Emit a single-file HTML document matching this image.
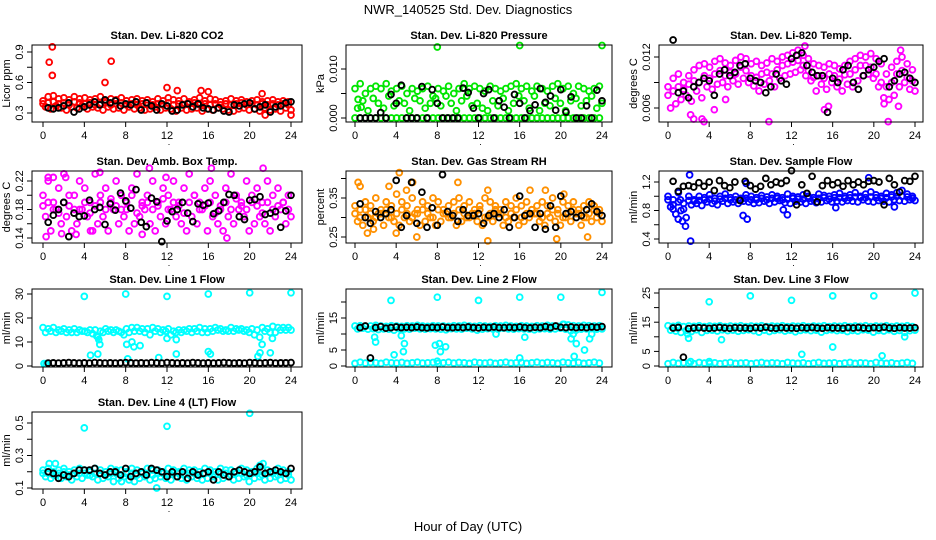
<!DOCTYPE html>
<html><head><meta charset="utf-8"><style>
html,body{margin:0;padding:0;background:#fff}
svg{display:block;font-family:"Liberation Sans",sans-serif}
</style></head><body>
<svg id="c" width="936" height="540" viewBox="0 0 936 540">
<text x="468" y="14" text-anchor="middle" font-size="13">NWR_140525  Std. Dev. Diagnostics</text>
<text x="468" y="531" text-anchor="middle" font-size="13">Hour of Day (UTC)</text>
</svg>
<script>
const xTicks=[0,4,8,12,16,20,24];
const co2A=[0.42,0.46,0.47,0.44,0.45,0.43,0.46,0.44,0.45,0.43,0.44,0.46,0.42,0.44,0.43,0.45,0.42,0.43,0.44,0.42,0.43,0.41,0.44,0.42,0.45,0.43,0.42,0.44,0.41,0.43,0.45,0.42,0.44,0.43,0.41,0.42,0.44,0.42,0.43,0.41,0.42,0.43,0.41,0.42,0.43,0.41,0.42,0.41];
const co2B=[0.36,0.34,0.37,0.35,0.33,0.36,0.35,0.37,0.34,0.36,0.35,0.33,0.36,0.34,0.35,0.33,0.36,0.34,0.35,0.33,0.34,0.36,0.33,0.35,0.34,0.32,0.35,0.33,0.34,0.35,0.32,0.34,0.33,0.35,0.34,0.33,0.32,0.34,0.35,0.33,0.34,0.32,0.35,0.33,0.34,0.32,0.35,0.33];
const co2C=[0.39,0.40,0.41,0.39,0.40,0.38,0.41,0.40,0.39,0.40,0.38,0.39,0.40,0.38,0.39,0.40,0.38,0.39,0.38,0.39,0.40,0.38,0.39,0.38,0.40,0.38,0.39,0.38,0.39,0.40,0.38,0.39,0.38,0.39,0.38,0.39,0.38,0.39,0.40,0.38,0.39,0.38,0.39,0.38,0.39,0.38,0.39,0.38];
const co2Out=[[0.9,0.95],[0.6,0.8],[0.9,0.67],[6.6,0.81],[6.0,0.6],[12,0.55],[13,0.52],[15.3,0.52],[16,0.51],[21.2,0.49],[24,0.28],[21.5,0.28]];
const co2Blk=[0.35,0.34,0.35,0.37,0.40,0.31,0.34,0.36,0.38,0.41,0.38,0.43,0.40,0.42,0.37,0.39,0.38,0.41,0.33,0.40,0.37,0.33,0.39,0.37,0.32,0.33,0.38,0.39,0.36,0.39,0.35,0.34,0.33,0.35,0.32,0.31,0.38,0.37,0.39,0.40,0.34,0.36,0.38,0.31,0.36,0.37,0.40,0.41];
const prsA=[0.006,0.007,0.005,0.006,0.0065,0.006,0.007,0.0055,0.006,0.0065,0.005,0.006,0.0055,0.006,0.0065,0.0045,0.006,0.0055,0.0065,0.005,0.006,0.007,0.006,0.0065,0.006,0.0055,0.0065,0.006,0.0055,0.006,0.0065,0.007,0.006,0.0065,0.0055,0.0065,0.006,0.0055,0.0065,0.007,0.006,0.0065,0.005,0.0065,0.006,0.0055,0.006,0.0065];
const prsB=[0.002,0.0035,0.0015,0.004,0.003,0.002,0.0045,0.0025,0.0035,0.003,0.0015,0.004,0.0035,0.002,0.003,0.004,0.0025,0.0045,0.003,0.0015,0.0035,0.0045,0.0025,0.003,0.002,0.0015,0.0035,0.0025,0.004,0.0015,0.003,0.0045,0.0035,0.002,0.0045,0.0015,0.003,0.0025,0.004,0.003,0.0015,0.0035,0.004,0.0025,0.0035,0.0045,0.002,0.003];
const prsZ=[0,0,0,0,0,0,0,0,0,0,0,0,0,0,0,0,0,0,0,0,0,0,0,0,0,0,0,0,0,0,0,0,0,0,0,0,0,0,0,0,0,0,0,0,0,0,0,0];
const prsOut=[[8,0.0145],[16,0.0148],[24,0.0148],[0.3,0.0038],[0.6,0.0022]];
const prsBlk=[0,0,0,0,0.0011,0,0.0048,0.0030,0.0067,0,0,0,0.0064,0,0.0058,0.0030,0,0,0,0,0.0061,0.0052,0.0020,0,0.0050,0.0058,0,0.0035,0.0022,0,0.0048,0.0030,0,0.0015,0.0027,0.0060,0.0032,0.0045,0.0016,0.0058,0.0012,0.0043,0,0,0.0025,0,0.0057,0.0035];
const tmpA=[0.0085,0.0095,0.0100,0.0090,0.0098,0.0105,0.0110,0.0112,0.0108,0.0115,0.0118,0.0113,0.0110,0.0116,0.0120,0.0118,0.0112,0.0115,0.0110,0.0113,0.0118,0.0115,0.0120,0.0122,0.0125,0.0128,0.0122,0.0118,0.0112,0.0110,0.0108,0.0112,0.0110,0.0106,0.0110,0.0115,0.0118,0.0122,0.0120,0.0124,0.0118,0.0112,0.0100,0.0108,0.0115,0.0120,0.0112,0.0105];
const tmpB=[0.0060,0.0065,0.0070,0.0075,0.0068,0.0080,0.0072,0.0085,0.0082,0.0088,0.0090,0.0085,0.0092,0.0088,0.0095,0.0090,0.0086,0.0080,0.0088,0.0092,0.0085,0.0095,0.0098,0.0100,0.0102,0.0105,0.0098,0.0092,0.0080,0.0088,0.0082,0.0090,0.0085,0.0080,0.0088,0.0085,0.0092,0.0098,0.0100,0.0095,0.0085,0.0072,0.0070,0.0075,0.0085,0.0090,0.0082,0.0080];
const tmpC=[0.0075,0.0080,0.0085,0.0082,0.0088,0.0092,0.0090,0.0098,0.0095,0.0100,0.0104,0.0098,0.0102,0.0100,0.0108,0.0104,0.0098,0.0096,0.0100,0.0102,0.0100,0.0105,0.0110,0.0112,0.0114,0.0116,0.0110,0.0104,0.0096,0.0098,0.0095,0.0100,0.0098,0.0094,0.0099,0.0100,0.0105,0.0110,0.0110,0.0108,0.0100,0.0090,0.0085,0.0090,0.0100,0.0104,0.0096,0.0092];
const tmpOut=[[2.2,0.0052],[2.5,0.0047],[3.3,0.0047],[3.5,0.0044],[4.5,0.0058],[5.6,0.0070],[9.8,0.0044],[15.2,0.0058],[15.6,0.0062],[21.0,0.0065],[21.4,0.0044],[22.4,0.0062],[13.3,0.0133],[22.6,0.0128]];
const tmpBlk=[0.0140,0.0078,0.0080,0.0072,0.0085,0.0090,0.0095,0.0092,0.0075,0.0100,0.0105,0.0098,0.0102,0.0110,0.0112,0.0095,0.0092,0.0090,0.0078,0.0085,0.0100,0.0092,0.0088,0.0118,0.0122,0.0125,0.0110,0.0102,0.0098,0.0098,0.0055,0.0095,0.0090,0.0105,0.0110,0.0090,0.0082,0.0098,0.0105,0.0108,0.0115,0.0118,0.0085,0.0092,0.0100,0.0102,0.0095,0.0090];
const ambA=[0.20,0.22,0.19,0.21,0.23,0.20,0.18,0.22,0.21,0.19,0.23,0.20,0.21,0.19,0.22,0.20,0.18,0.21,0.23,0.19,0.20,0.22,0.19,0.21,0.20,0.22,0.19,0.21,0.23,0.20,0.19,0.21,0.22,0.20,0.18,0.21,0.23,0.20,0.19,0.22,0.20,0.21,0.19,0.22,0.20,0.21,0.19,0.20];
const ambB=[0.17,0.15,0.18,0.16,0.17,0.15,0.16,0.18,0.17,0.15,0.16,0.17,0.15,0.18,0.16,0.17,0.15,0.16,0.17,0.18,0.16,0.15,0.17,0.16,0.18,0.17,0.16,0.15,0.17,0.16,0.18,0.15,0.17,0.16,0.15,0.17,0.16,0.18,0.17,0.15,0.16,0.17,0.16,0.15,0.17,0.18,0.16,0.17];
const ambC=[0.185,0.19,0.18,0.175,0.19,0.185,0.2,0.18,0.19,0.175,0.185,0.19,0.18,0.195,0.185,0.18,0.19,0.2,0.175,0.185,0.19,0.18,0.185,0.195,0.18,0.19,0.185,0.175,0.19,0.2,0.18,0.185,0.19,0.175,0.185,0.19,0.18,0.195,0.185,0.18,0.19,0.185,0.175,0.19,0.18,0.185,0.19,0.18];
const ambOut=[[0.3,0.142],[0.5,0.225],[1,0.225],[1.8,0.146],[2.2,0.225],[5.5,0.232],[10.3,0.238],[11.9,0.225],[16.3,0.238],[17.8,0.14],[21.3,0.238],[9.6,0.145],[3.2,0.145],[4.6,0.15]];
const ambBlk=[0.162,0.172,0.18,0.19,0.142,0.175,0.17,0.171,0.193,0.18,0.183,0.159,0.188,0.179,0.203,0.192,0.182,0.208,0.162,0.156,0.196,0.191,0.135,0.164,0.177,0.18,0.19,0.175,0.163,0.188,0.186,0.189,0.174,0.178,0.19,0.201,0.2,0.17,0.166,0.193,0.194,0.198,0.173,0.175,0.177,0.155,0.178,0.2];
const rhA=[0.33,0.32,0.34,0.33,0.35,0.32,0.34,0.33,0.36,0.34,0.33,0.35,0.32,0.34,0.33,0.35,0.34,0.32,0.33,0.34,0.35,0.33,0.34,0.32,0.33,0.35,0.34,0.33,0.32,0.34,0.33,0.35,0.33,0.34,0.32,0.33,0.34,0.33,0.35,0.32,0.34,0.33,0.34,0.32,0.33,0.34,0.33,0.32];
const rhB=[0.29,0.28,0.30,0.29,0.31,0.28,0.30,0.29,0.28,0.30,0.29,0.31,0.28,0.29,0.30,0.28,0.29,0.31,0.30,0.28,0.29,0.30,0.31,0.29,0.28,0.30,0.29,0.31,0.28,0.29,0.30,0.28,0.29,0.30,0.31,0.29,0.28,0.30,0.29,0.28,0.30,0.29,0.31,0.28,0.30,0.29,0.30,0.29];
const rhC=[0.31,0.30,0.32,0.31,0.30,0.31,0.32,0.30,0.31,0.32,0.31,0.30,0.31,0.32,0.31,0.30,0.32,0.31,0.30,0.31,0.32,0.31,0.30,0.31,0.32,0.30,0.31,0.32,0.31,0.30,0.31,0.32,0.30,0.31,0.32,0.31,0.30,0.31,0.32,0.31,0.30,0.31,0.32,0.31,0.30,0.31,0.32,0.31];
const rhOut=[[0.3,0.39],[0.5,0.38],[1.2,0.26],[1.8,0.27],[3.3,0.38],[4.3,0.415],[4.0,0.26],[5.6,0.39],[6.0,0.25],[10.0,0.39],[12.9,0.24],[12.9,0.37],[17.0,0.37],[19.6,0.245],[22.6,0.25],[18.5,0.37],[5.0,0.37],[20.3,0.36]];
const rhBlk=[0.335,0.30,0.285,0.315,0.30,0.31,0.32,0.395,0.275,0.305,0.39,0.285,0.365,0.275,0.325,0.28,0.41,0.315,0.305,0.29,0.32,0.305,0.305,0.31,0.285,0.305,0.31,0.3,0.32,0.275,0.3,0.355,0.305,0.31,0.275,0.31,0.27,0.33,0.275,0.355,0.31,0.315,0.3,0.305,0.32,0.335,0.315,0.305];
const flwA=[1.0,0.95,1.05,0.9,1.0,0.95,1.0,0.98,1.02,0.97,1.0,1.03,0.98,1.0,0.97,1.02,1.0,0.98,1.01,0.99,1.02,1.0,0.98,1.03,1.0,0.99,1.02,1.0,0.98,1.03,1.01,1.0,1.02,1.04,1.0,1.02,1.05,1.0,1.03,1.06,1.02,1.0,1.04,1.02,1.05,1.08,1.03,1.0];
const flwB=[0.85,0.75,0.8,0.7,0.88,0.9,0.87,0.92,0.9,0.88,0.93,0.9,0.92,0.9,0.93,0.92,0.9,0.91,0.93,0.9,0.92,0.94,0.91,0.9,0.93,0.92,0.9,0.93,0.91,0.92,0.94,0.92,0.93,0.92,0.94,0.93,0.92,0.95,0.93,0.92,0.94,0.93,0.92,0.95,0.94,0.93,0.95,0.94];
const flwC=[0.95,0.88,0.92,0.82,0.94,0.93,0.94,0.95,0.96,0.93,0.96,0.97,0.95,0.95,0.95,0.97,0.95,0.95,0.97,0.95,0.97,0.97,0.95,0.96,0.97,0.96,0.96,0.97,0.95,0.97,0.98,0.96,0.98,0.98,0.97,0.98,0.99,0.98,0.98,0.99,0.98,0.97,0.98,0.99,1.0,1.0,0.99,0.97];
const flwOut=[[2.1,1.3],[2.2,0.37],[1.7,0.58],[1.0,0.68],[1.4,0.65],[7.3,0.73],[7.7,0.68],[11.6,0.74],[11.2,0.81],[16.3,0.84],[19.5,1.26],[22.0,0.85],[0.5,0.82],[1.2,0.95],[7.6,1.18]];
const flwBlk=[1.21,1.07,1.14,1.15,1.13,1.19,1.14,1.2,1.08,1.22,1.15,1.12,1.2,0.94,1.21,1.15,1.1,1.14,1.25,1.16,1.2,1.18,1.22,1.36,0.88,1.16,1.04,1.28,0.92,1.15,1.22,1.16,1.19,1.14,1.22,1.16,1.2,1.16,1.21,1.22,1.2,0.88,1.25,1.16,1.06,1.22,1.21,1.28];
const l1A=[16,15.5,16,15,15.5,15,15.5,15,14.5,15,15,14.5,15.5,15,15,14,15.5,16,16,15.5,15.5,16,15.5,15,15.5,14.5,15,15,15.5,15.5,16,15.5,15.5,16,15.5,15,16,15.5,15.5,15,15.5,15,16,15.5,16.5,16,16,16];
const l1B=[14,14.5,14,14.5,14,14,14,14.5,14,13.5,12,14,14.5,14,14.5,13,14,14.5,14.5,14,13,14.5,14,14.5,13,14,14,14.5,14,14.5,14,14,14.5,15,14.5,14.5,14.5,15,14.5,14,13,12,14.5,14,14,15,15,15];
const l1Out=[[4,29],[8,30],[12,29],[16,30],[20,30.5],[24,30.5],[5.2,12.5],[5.4,11],[5.5,9],[4.6,4.5],[5.3,5],[8.1,9],[8.6,10],[8.8,8],[9.4,8.5],[12,11.5],[12.9,11],[12.9,5],[16,6],[16.2,5],[20.8,4],[21,5.5],[21.2,9],[22,5.5],[22.2,11.5],[8.2,3],[11.2,3.5],[0.1,1],[0.3,1]];
const l1Blk=[1.2,1.3,1.2,1.3,1.4,1.3,1.2,1.3,1.2,1.4,1.3,1.2,1.3,1.2,1.3,1.4,1.3,1.2,1.3,1.2,1.4,1.3,1.2,1.4,1.3,1.2,1.3,1.2,1.4,1.3,1.2,1.3,1.2,1.3,1.4,1.3,1.2,1.3,1.2,1.4,1.3,1.2,1.3,1.4,1.2,1.3,1.3,1.4];
const l2A=[12.5,12.6,12.4,12.5,12.7,12.5,12.4,12.6,12.5,12.4,12.6,12.5,12.7,12.5,12.4,12.6,12.5,12.5,12.4,12.6,12.5,12.7,12.5,12.4,12.6,12.5,12.4,12.6,12.5,12.7,12.5,12.4,12.6,12.5,12.4,12.6,12.5,12.7,12.5,12.4,13,12.8,12.6,12.5,12.7,12.6,12.5,12.6];
const l2B=[11.6,11.8,11.5,11.7,11.4,11.6,11.5,11.2,11.7,11.6,11.5,11.8,11.6,11.5,11.7,11.6,11.5,11.3,11.7,11.6,11.5,11.8,11.6,11.2,11.5,11.7,11.6,11.5,11.8,11.6,11.5,11.7,11.6,11.5,11.3,11.6,11.7,11.5,11.6,11.8,11.5,11,11.2,11.5,11.6,11.7,11.5,11.6];
const l2Low=[0.8,1.2,0.9,1.1,1.0,0.8,1.2,1.0,0.9,1.1,0.8,1.0,1.2,0.9,1.0,1.1,0.8,1.0,1.2,0.9,1.1,1.0,0.8,1.2,1.0,0.9,1.1,0.8,1.0,1.2,0.9,1.0,1.1,0.8,1.0,1.2,0.9,1.1,1.0,0.8,1.2,1.0,0.9,1.1,0.8,1.0,1.2,0.9];
const l2Out=[[2,7.5],[1.9,9],[3.5,20.5],[3.8,3.5],[4.5,9.5],[4.7,4.5],[4.8,7],[8,21.5],[7.8,6.5],[8.2,7],[8.3,4.5],[8.8,6],[12,20.5],[8,1.5],[16,21.5],[16,2.5],[20,21.5],[20.3,13],[21,8.5],[21.2,10],[21.5,7],[21.3,3],[22.3,5],[22.8,8.5],[23,10],[24,23],[13.7,10],[16.5,9]];
const l2Blk=[12,12.5,2.5,12,12.3,11.8,12,12.2,12,12.1,12,12.2,12,11.9,12.1,12,12.2,12,12,12.1,12,12.2,12,11.9,12.1,12,12.2,12,12,12.1,12,12.2,12,11.9,12.1,12,12.3,12,12.5,12.1,12,12.2,12,12.1,12,12.2,12.1,12.3];
const l3A=[13.8,13.6,13.9,13.5,13.7,13.6,13.8,13.5,13.7,13.6,13.8,13.5,13.7,13.6,13.8,13.5,13.7,13.6,13.8,13.5,13.7,13.6,13.8,13.5,13.7,13.6,13.8,13.5,13.7,13.6,13.8,13.5,13.7,13.6,13.8,13.5,13.7,13.6,13.8,13.5,13.7,13.6,13.8,13.5,13.7,13.6,13.8,13.5];
const l3B=[12.3,12.0,11.5,12.2,11.8,12.4,11.5,12.2,12.3,12.0,12.4,12.1,12.3,11.9,12.2,12.4,12.1,11.6,12.3,11.8,12.2,12.4,12.0,12.3,11.7,12.2,12.4,12.1,12.3,11.6,12.2,12.4,12.1,12.3,11.8,12.2,12.0,12.4,12.3,11.6,12.2,12.0,12.4,11.9,12.2,11.5,12.1,12.3];
const l3Low=[0.8,1.2,0.9,1.1,1.0,0.8,1.2,1.0,0.9,1.1,0.8,1.0,1.2,0.9,1.0,1.1,0.8,1.0,1.2,0.9,1.1,1.0,0.8,1.2,1.0,0.9,1.1,0.8,1.0,1.2,0.9,1.0,1.1,0.8,1.0,1.2,0.9,1.1,1.0,0.8,1.2,1.0,0.9,1.1,0.8,1.0,1.2,0.9];
const l3Out=[[0.9,13],[2,9.5],[4,22],[5.2,9],[8,24],[12,22.5],[16,24],[20,24],[24,25],[16,6.5],[13,4],[20.8,3.5],[23,10],[2.2,1.5],[4,1.5],[1.9,11]];
const l3Blk=[13,13.2,3,12.8,13,13.1,13,12.9,13,13.2,13,12.9,13.1,13,13,12.9,13.1,13,13.3,13,12.9,13.1,13,13,12.9,13.1,13,13.2,13,12.9,13.1,13,13,12.9,13.1,13,13.2,13,12.9,13.1,13,13.3,13,12.9,13.1,13,13,13.1];
const l4A=[0.21,0.22,0.20,0.21,0.22,0.20,0.21,0.22,0.21,0.20,0.22,0.21,0.20,0.22,0.21,0.21,0.20,0.22,0.21,0.20,0.22,0.21,0.21,0.20,0.22,0.21,0.20,0.22,0.21,0.21,0.20,0.22,0.21,0.20,0.22,0.21,0.21,0.20,0.22,0.21,0.20,0.22,0.21,0.21,0.20,0.22,0.21,0.20];
const l4B=[0.17,0.16,0.18,0.16,0.17,0.15,0.17,0.16,0.18,0.17,0.15,0.16,0.17,0.14,0.16,0.17,0.15,0.14,0.16,0.17,0.15,0.16,0.17,0.16,0.15,0.17,0.16,0.15,0.17,0.16,0.15,0.16,0.17,0.15,0.16,0.17,0.15,0.16,0.17,0.14,0.16,0.17,0.15,0.16,0.17,0.15,0.16,0.15];
const l4C=[0.19,0.19,0.18,0.19,0.20,0.18,0.19,0.19,0.19,0.18,0.19,0.19,0.18,0.19,0.19,0.18,0.19,0.19,0.18,0.19,0.19,0.18,0.19,0.19,0.18,0.19,0.19,0.18,0.19,0.19,0.18,0.19,0.19,0.18,0.19,0.19,0.18,0.19,0.19,0.18,0.19,0.19,0.18,0.19,0.19,0.18,0.19,0.18];
const l4Out=[[4,0.47],[12,0.48],[20,0.56],[0.6,0.25],[1.2,0.25],[11,0.1],[21.3,0.25],[21,0.24],[7.6,0.14]];
const l4Blk=[0.2,0.19,0.16,0.18,0.17,0.19,0.21,0.21,0.21,0.22,0.19,0.18,0.2,0.2,0.18,0.22,0.17,0.19,0.2,0.18,0.22,0.21,0.2,0.17,0.2,0.17,0.2,0.16,0.2,0.18,0.19,0.2,0.15,0.2,0.18,0.17,0.2,0.21,0.2,0.19,0.2,0.23,0.19,0.2,0.21,0.2,0.19,0.22];

const NS='http://www.w3.org/2000/svg';
const svg=document.getElementById('c');
const cols=[{L:32,R:302,x0:43,x24:291},{L:346,R:612,x0:355,x24:602},{L:659,R:923,x0:668,x24:915}];
const rows=[{T:45,B:122},{T:171,B:243},{T:289,B:367},{T:412,B:489}];
function el(tag,attrs,parent){const e=document.createElementNS(NS,tag);for(const k in attrs)e.setAttribute(k,attrs[k]);(parent||svg).appendChild(e);return e;}
const panels=[
 {id:'co2',title:'Stan. Dev. Li-820 CO2',ylab:'Licor ppm',c:0,r:0,v1:0.3,p1:113,v2:0.9,p2:52,ticks:[0.3,0.45,0.6,0.75,0.9],labs:['0.3','','0.6','','0.9'],col:'#ff0000',ser:[co2A,co2B,co2C],out:co2Out,blk:co2Blk},
 {id:'pressure',title:'Stan. Dev. Li-820 Pressure',ylab:'kPa',c:1,r:0,v1:0,p1:118,v2:0.01,p2:69,ticks:[0,0.005,0.01],labs:['0.000','','0.010'],col:'#00e600',ser:[prsA,prsB,prsZ],out:prsOut,blk:prsBlk},
 {id:'temp',title:'Stan. Dev. Li-820 Temp.',ylab:'degrees C',c:2,r:0,v1:0.006,p1:108,v2:0.012,p2:57,ticks:[0.006,0.009,0.012],labs:['0.006','','0.012'],col:'#ff00ff',ser:[tmpA,tmpB,tmpC],out:tmpOut,blk:tmpBlk},
 {id:'amb-box',title:'Stan. Dev. Amb. Box Temp.',ylab:'degrees C',c:0,r:1,v1:0.14,p1:238,v2:0.22,p2:181,ticks:[0.14,0.16,0.18,0.2,0.22],labs:['0.14','','0.18','','0.22'],col:'#ff00ff',ser:[ambA,ambB,ambC],out:ambOut,blk:ambBlk},
 {id:'rh',title:'Stan. Dev. Gas Stream RH',ylab:'percent',c:1,r:1,v1:0.25,p1:237,v2:0.35,p2:198,ticks:[0.25,0.3,0.35,0.4],labs:['0.25','','0.35',''],col:'#ff9000',ser:[rhA,rhB,rhC],out:rhOut,blk:rhBlk},
 {id:'sample-flow',title:'Stan. Dev. Sample Flow',ylab:'ml/min',c:2,r:1,v1:0.4,p1:239,v2:1.2,p2:182,ticks:[0.4,0.6,0.8,1.0,1.2],labs:['0.4','','0.8','','1.2'],col:'#0000ff',ser:[flwA,flwB,flwC],out:flwOut,blk:flwBlk},
 {id:'line1',title:'Stan. Dev. Line 1 Flow',ylab:'ml/min',c:0,r:2,v1:0,p1:366,v2:30,p2:294,ticks:[0,10,20,30],labs:['0','10','20','30'],col:'#00ffff',ser:[l1A,l1B],out:l1Out,blk:l1Blk},
 {id:'line2',title:'Stan. Dev. Line 2 Flow',ylab:'ml/min',c:1,r:2,v1:0,p1:366,v2:15,p2:318,ticks:[0,5,10,15,20],labs:['0','5','','15',''],col:'#00ffff',ser:[l2A,l2B,l2Low],out:l2Out,blk:l2Blk},
 {id:'line3',title:'Stan. Dev. Line 3 Flow',ylab:'ml/min',c:2,r:2,v1:0,p1:366,v2:25,p2:293,ticks:[0,5,10,15,20,25],labs:['0','5','','15','','25'],col:'#00ffff',ser:[l3A,l3B,l3Low],out:l3Out,blk:l3Blk},
 {id:'line4',title:'Stan. Dev. Line 4 (LT) Flow',ylab:'ml/min',c:0,r:3,v1:0.1,p1:488,v2:0.5,p2:423,ticks:[0.1,0.2,0.3,0.4,0.5],labs:['0.1','','0.3','','0.5'],col:'#00ffff',ser:[l4A,l4B,l4C],out:l4Out,blk:l4Blk}
];
function circ(g,x,y,color,name){
 const c=el('circle',{cx:x.toFixed(1),cy:y.toFixed(1),r:2.9,fill:'none',stroke:color,'stroke-width':1.9},g);
 
 
}
panels.forEach(p=>{
 const C=cols[p.c],R=rows[p.r];
 const g=el('g',{});
 
 
 const xs=h=>C.x0+(C.x24-C.x0)*h/24;
 const ys=v=>p.p1+(p.p2-p.p1)*(v-p.v1)/(p.v2-p.v1);
 const t=el('text',{x:(C.L+C.R)/2,y:R.T-6,'text-anchor':'middle','font-size':11,'font-weight':'bold'},g);
 t.textContent=p.title;
 
 
 const cg=el('g',{},g);
 
 
 p.ser.forEach((arr,si)=>{const n=arr.length;arr.forEach((v,i)=>{const h=(si%2?0.25:0)+i*(24-0.25)/(n-1);circ(cg,xs(h),ys(v),p.col,p.id+'-point');});});
 p.out.forEach(d=>circ(cg,xs(d[0]),ys(d[1]),p.col,p.id+'-outlier'));
 const n=p.blk.length;
 p.blk.forEach((v,i)=>circ(cg,xs(0.5+i*23.5/(n-1)),ys(v),'#000',p.id+'-reference-point'));
 const box=el('rect',{x:C.L,y:R.T,width:C.R-C.L,height:R.B-R.T,fill:'none',stroke:'#000','stroke-width':1},g);
 
 
 const xa=el('g',{},g);
 
 
 el('line',{x1:xs(0),x2:xs(24),y1:R.B,y2:R.B,stroke:'#000'},xa);
 xTicks.forEach(h=>{el('line',{x1:xs(h),x2:xs(h),y1:R.B,y2:R.B+5,stroke:'#000'},xa);const tl=el('text',{x:xs(h),y:R.B+17,'text-anchor':'middle','font-size':11},xa);tl.textContent=h;});
 const dot=el('text',{x:xs(12.2),y:R.B+23,'text-anchor':'middle','font-size':9},xa);dot.textContent='.';
 const ya=el('g',{},g);
 
 
 el('line',{x1:C.L,x2:C.L,y1:ys(p.ticks[0]),y2:ys(p.ticks[p.ticks.length-1]),stroke:'#000'},ya);
 p.ticks.forEach((v,i)=>{const y=ys(v);el('line',{x1:C.L-5,x2:C.L,y1:y,y2:y,stroke:'#000'},ya);if(p.labs[i]){const tl=el('text',{x:C.L-9,y:y,'text-anchor':'middle','font-size':11,transform:`rotate(-90 ${C.L-9} ${y})`},ya);tl.textContent=p.labs[i];}});
 const yl=el('text',{x:C.L-22,y:(R.T+R.B)/2,'text-anchor':'middle','font-size':11,transform:`rotate(-90 ${C.L-22} ${(R.T+R.B)/2})`},g);
 yl.textContent=p.ylab;
 
 
});
</script>
</body></html>
